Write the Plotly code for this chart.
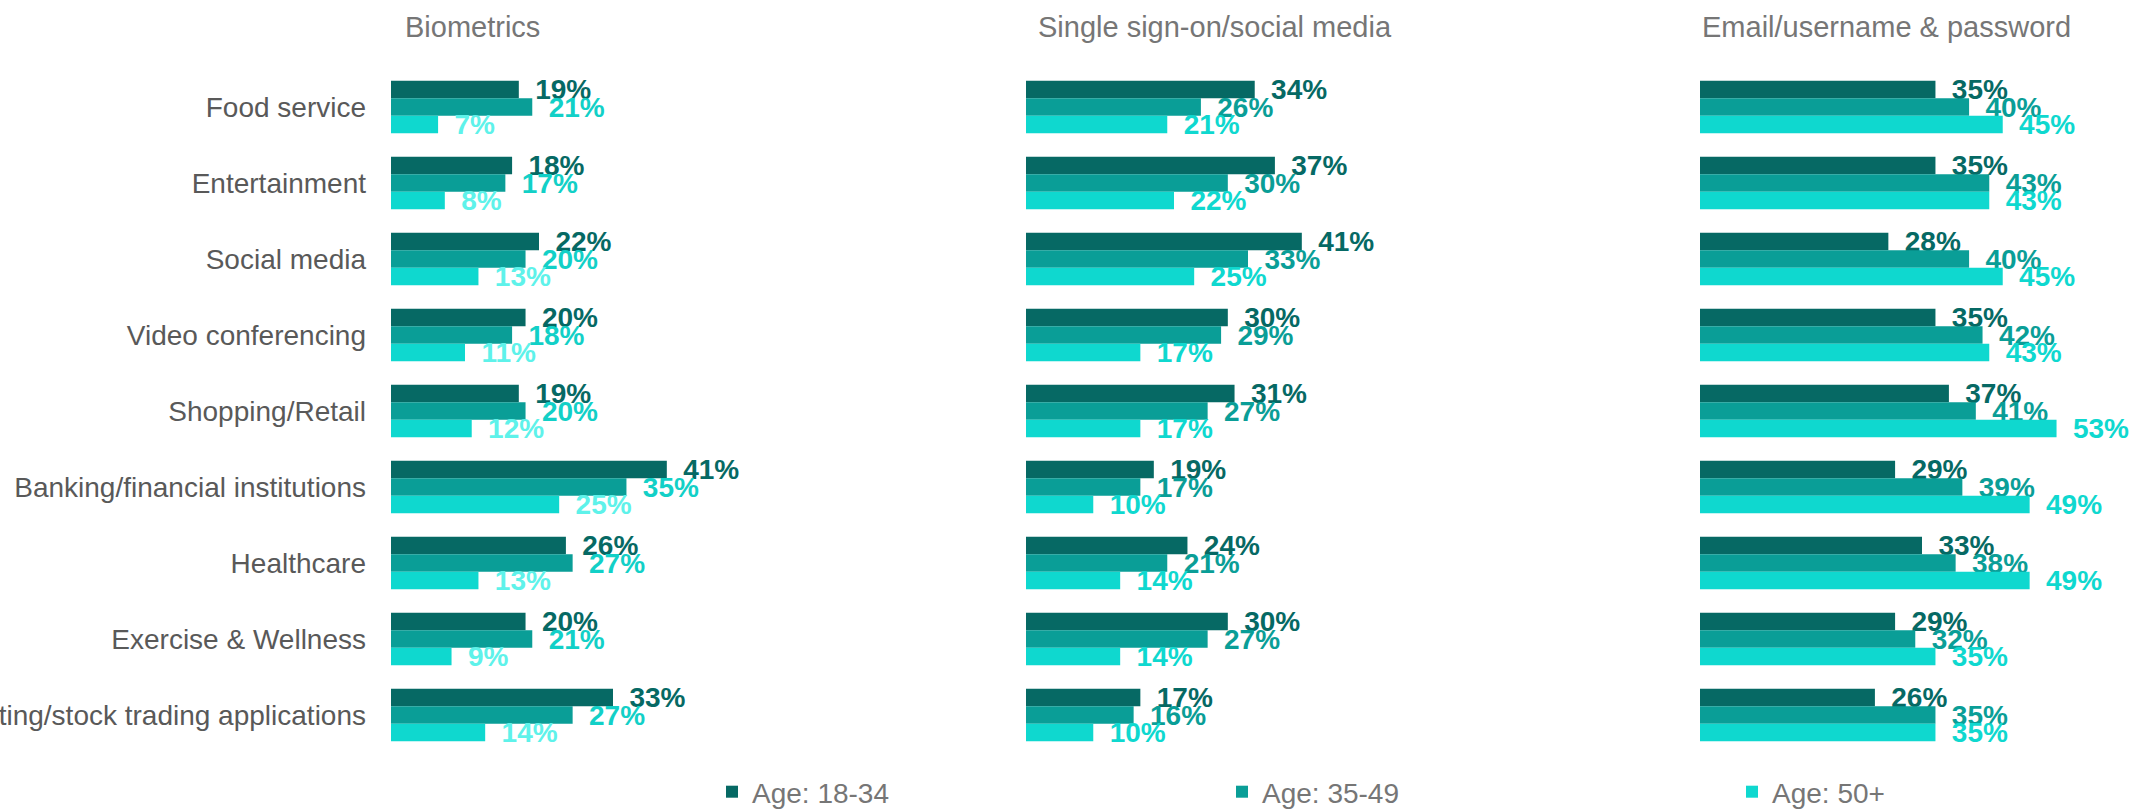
import plotly.graph_objects as go

categories = ["Food service", "Entertainment", "Social media", "Video conferencing",
              "Shopping/Retail", "Banking/financial institutions", "Healthcare",
              "Exercise & Wellness", "Investing/stock trading applications"]
series_names = ["Age: 18-34", "Age: 35-49", "Age: 50+"]
panel_titles = ["Biometrics", "Single sign-on/social media", "Email/username & password"]

bio_18_34 = [19, 18, 22, 20, 19, 41, 26, 20, 33]
bio_35_49 = [21, 17, 20, 18, 20, 35, 27, 21, 27]
bio_50p = [7, 8, 13, 11, 12, 25, 13, 9, 14]

sso_18_34 = [34, 37, 41, 30, 31, 19, 24, 30, 17]
sso_35_49 = [26, 30, 33, 29, 27, 17, 21, 27, 16]
sso_50p = [21, 22, 25, 17, 17, 10, 14, 14, 10]

pwd_18_34 = [35, 35, 28, 35, 37, 29, 33, 29, 26]
pwd_35_49 = [40, 43, 40, 42, 41, 39, 38, 32, 35]
pwd_50p = [45, 43, 45, 43, 53, 49, 49, 35, 35]

panels = [
    [bio_18_34, bio_35_49, bio_50p],
    [sso_18_34, sso_35_49, sso_50p],
    [pwd_18_34, pwd_35_49, pwd_50p],
]

W, H = 2131, 809
bar_colors = ["#066964", "#0A9E97", "#0FD8CF"]
label_colors = [
    ["#066964", "#12D0C7", "#5EF2EA"],
    ["#066964", "#0A9E97", "#0FD8CF"],
    ["#066964", "#0A9E97", "#0FD8CF"],
]
FONT = "Liberation Sans, Arial, sans-serif"

# pixel layout
panel_x0 = [391, 1026, 1700]
panel_w = 370
xmax = 55
y_top, y_bot = 69, 753
title_cx = [472, 1215, 1886]
title_cy = 27

fig = go.Figure()
for p, vals in enumerate(panels):
    ax = "" if p == 0 else str(p + 1)
    for s, v in enumerate(vals):
        fig.add_trace(go.Bar(
            y=categories, x=v, orientation="h",
            name=series_names[s],
            marker=dict(color=bar_colors[s], line=dict(width=0)),
            text=["\u00a0\u2009" + f"{x}%" for x in v],
            textposition="outside",
            constraintext="none",
            cliponaxis=False,
            textfont=dict(family=FONT, size=28, color=label_colors[p][s], weight="bold"),
            xaxis="x" + ax, yaxis="y" + ax,
            showlegend=(p == 0),
            legendgroup=series_names[s],
            hoverinfo="skip",
        ))

layout = dict(
    width=W, height=H,
    margin=dict(l=0, r=0, t=0, b=0, autoexpand=False),
    paper_bgcolor="white", plot_bgcolor="white",
    barmode="group", bargap=0.31, bargroupgap=0,
    font=dict(family=FONT, size=28, color="#595959"),
    showlegend=True,
    legend=dict(orientation="h", x=(712) / W, xanchor="left", y=1 - 792 / H, yanchor="middle",
                font=dict(family=FONT, size=28, color="#767676"),
                entrywidth=465, entrywidthmode="pixels", traceorder="normal",
                bgcolor="rgba(0,0,0,0)"),
)
for p in range(3):
    ax = "" if p == 0 else str(p + 1)
    layout["xaxis" + ax] = dict(
        domain=[panel_x0[p] / W, (panel_x0[p] + panel_w) / W],
        range=[0, xmax], showgrid=False, zeroline=False, showticklabels=False,
        showline=False, anchor="y" + ax, fixedrange=True, automargin=False,
    )
    layout["yaxis" + ax] = dict(
        domain=[1 - y_bot / H, 1 - y_top / H],
        categoryorder="array", categoryarray=categories, autorange="reversed",
        showgrid=False, zeroline=False, showline=False, ticks="",
        showticklabels=(p == 0), ticklabelstandoff=24,
        tickfont=dict(family=FONT, size=28, color="#595959"),
        anchor="x" + ax, fixedrange=True, automargin=False,
    )
fig.update_layout(**layout)

for p in range(3):
    fig.add_annotation(text=panel_titles[p], x=title_cx[p] / W, y=1 - title_cy / H,
                       xref="paper", yref="paper", xanchor="center", yanchor="middle",
                       showarrow=False, font=dict(family=FONT, size=29, color="#767676"))

fig.write_html("out.html",
               config={"displayModeBar": False, "staticPlot": True},
               post_script="document.body.style.margin='0';document.body.style.overflow='hidden';")
